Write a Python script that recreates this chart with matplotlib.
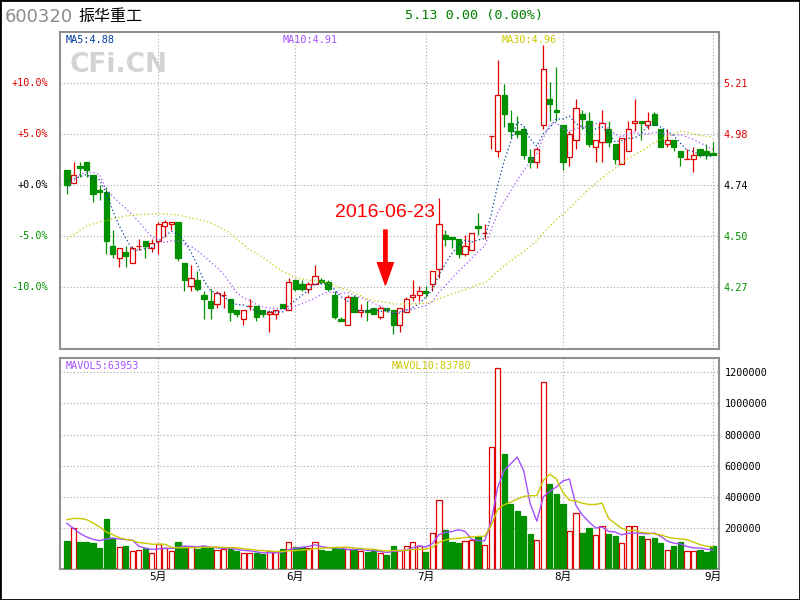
import numpy as np
import pandas as pd
import matplotlib
matplotlib.use('Agg')
import matplotlib.pyplot as plt
from matplotlib import transforms
from matplotlib.patches import Rectangle

plt.rcParams['font.family'] = ['DejaVu Sans', 'Noto Sans CJK SC']

# daily candles 2016-04 .. 2016-09-01
opens = [4.81, 4.75, 4.83, 4.85, 4.79, 4.72, 4.71, 4.46, 4.40, 4.43,
         4.38, 4.46, 4.48, 4.45, 4.48, 4.55, 4.56, 4.57, 4.38, 4.27,
         4.30, 4.23, 4.20, 4.19, 4.23, 4.21, 4.16, 4.12, 4.18, 4.18,
         4.16, 4.14, 4.14, 4.19, 4.16, 4.30, 4.28, 4.26, 4.28, 4.30,
         4.29, 4.23, 4.12, 4.09, 4.22, 4.15, 4.16, 4.17, 4.13, 4.17,
         4.16, 4.09, 4.15, 4.22, 4.23, 4.25, 4.28, 4.35, 4.51, 4.50,
         4.49, 4.42, 4.44, 4.55, 4.52, 4.97, 4.90, 5.16, 5.03, 4.99,
         5.00, 4.87, 4.85, 5.02, 5.14, 5.09, 5.02, 4.87, 4.95, 5.07,
         5.04, 4.92, 4.94, 5.00, 4.93, 4.84, 4.90, 5.03, 5.04, 5.02,
         5.07, 5.00, 4.93, 4.95, 4.90, 4.86, 4.86, 4.91, 4.90, 4.89]
highs = [4.81, 4.85, 4.85, 4.85, 4.79, 4.74, 4.73, 4.53, 4.45, 4.46,
         4.46, 4.49, 4.48, 4.49, 4.57, 4.58, 4.57, 4.57, 4.38, 4.37,
         4.34, 4.25, 4.26, 4.25, 4.25, 4.21, 4.16, 4.16, 4.21, 4.18,
         4.16, 4.16, 4.16, 4.19, 4.31, 4.30, 4.30, 4.29, 4.37, 4.31,
         4.30, 4.25, 4.13, 4.23, 4.23, 4.19, 4.20, 4.17, 4.18, 4.17,
         4.16, 4.17, 4.22, 4.30, 4.27, 4.27, 4.34, 4.68, 4.53, 4.50,
         4.49, 4.51, 4.52, 4.61, 4.56, 4.97, 5.32, 5.21, 5.09, 5.06,
         5.01, 4.91, 4.92, 5.39, 5.22, 5.29, 5.02, 4.99, 5.14, 5.09,
         5.08, 4.95, 5.09, 5.04, 4.93, 4.96, 5.04, 5.14, 5.04, 5.08,
         5.08, 5.00, 5.00, 4.95, 4.90, 4.91, 4.92, 4.91, 4.93, 4.94]
lows = [4.70, 4.75, 4.78, 4.78, 4.66, 4.67, 4.42, 4.40, 4.36, 4.36,
        4.38, 4.44, 4.40, 4.43, 4.42, 4.50, 4.53, 4.39, 4.25, 4.25,
        4.25, 4.12, 4.12, 4.17, 4.17, 4.11, 4.13, 4.09, 4.16, 4.11,
        4.13, 4.06, 4.12, 4.17, 4.16, 4.25, 4.25, 4.24, 4.28, 4.28,
        4.25, 4.12, 4.11, 4.09, 4.15, 4.13, 4.11, 4.14, 4.12, 4.15,
        4.05, 4.06, 4.15, 4.20, 4.20, 4.22, 4.25, 4.31, 4.46, 4.45,
        4.40, 4.41, 4.44, 4.51, 4.49, 4.91, 4.87, 5.01, 4.96, 4.96,
        4.86, 4.82, 4.82, 5.00, 5.04, 5.04, 4.81, 4.83, 4.91, 5.00,
        4.92, 4.85, 4.85, 4.92, 4.84, 4.84, 4.90, 4.99, 4.95, 5.00,
        5.02, 4.92, 4.92, 4.90, 4.83, 4.86, 4.80, 4.87, 4.86, 4.88]
closes = [4.74, 4.79, 4.82, 4.81, 4.70, 4.71, 4.48, 4.42, 4.45, 4.41,
          4.45, 4.46, 4.46, 4.47, 4.56, 4.57, 4.57, 4.40, 4.30, 4.31,
          4.26, 4.21, 4.17, 4.24, 4.23, 4.15, 4.14, 4.16, 4.18, 4.13,
          4.14, 4.15, 4.16, 4.17, 4.29, 4.26, 4.26, 4.28, 4.32, 4.29,
          4.26, 4.13, 4.11, 4.22, 4.15, 4.16, 4.15, 4.14, 4.17, 4.16,
          4.09, 4.17, 4.21, 4.23, 4.25, 4.24, 4.34, 4.56, 4.49, 4.49,
          4.42, 4.46, 4.52, 4.54, 4.52, 4.97, 5.16, 5.07, 4.99, 4.98,
          4.88, 4.85, 4.91, 5.28, 5.12, 5.08, 4.85, 4.98, 5.10, 5.05,
          4.93, 4.95, 5.03, 4.94, 4.86, 4.96, 5.00, 5.04, 5.03, 5.04,
          5.02, 4.92, 4.95, 4.92, 4.87, 4.86, 4.88, 4.88, 4.88, 4.88]
volumes = [118000, 206000, 112000, 112000, 106000, 74000, 259000, 142000, 84000, 86000,
           59000, 65000, 76000, 46000, 104000, 76000, 59000, 112000, 86000, 91000,
           67000, 86000, 74000, 65000, 72000, 67000, 54000, 46000, 46000, 42000,
           35000, 54000, 48000, 67000, 116000, 84000, 84000, 76000, 116000, 61000,
           54000, 76000, 67000, 72000, 61000, 54000, 48000, 61000, 42000, 29000,
           86000, 65000, 91000, 116000, 86000, 48000, 174000, 379000, 189000, 112000,
           106000, 123000, 129000, 146000, 97000, 718000, 1223000, 675000, 355000, 310000,
           278000, 163000, 129000, 1134000, 483000, 419000, 355000, 187000, 296000, 170000,
           202000, 161000, 213000, 163000, 150000, 110000, 213000, 219000, 150000, 136000,
           138000, 106000, 65000, 86000, 112000, 59000, 59000, 61000, 48000, 86000]

# moving-average values before the window fills
ma5_head = [4.76, 4.77, 4.78, 4.79]
ma10_head = [4.72, 4.76, 4.79, 4.80, 4.80, 4.79, 4.72, 4.69, 4.66]
ma30_head = [4.49, 4.51, 4.53, 4.55, 4.56, 4.57, 4.576, 4.585, 4.59, 4.598,
             4.60, 4.603, 4.605, 4.606, 4.607, 4.607, 4.605, 4.602, 4.595, 4.588,
             4.582, 4.575, 4.565, 4.55, 4.535, 4.517, 4.49, 4.465, 4.44]
mavol5_head = [232000, 200000, 168000, 146000]
mavol10_head = [257000, 264000, 264000, 257000, 235000, 210000, 178000, 161000, 142000]

month_pos = [14, 35, 55, 76, 99]
month_labels = ['5月', '6月', '7月', '8月', '9月']
base_price = 4.74
pct_ticks = [10, 5, 0, -5, -10]
vol_ticks = [200000, 400000, 600000, 800000, 1000000, 1200000]


def moving(vals, n, head):
    m = pd.Series(vals, dtype=float).rolling(n).mean().to_numpy()
    m[:n - 1] = head
    return m


RED = '#e00000'
GREEN = '#009000'
C_MA5 = '#003f9e'
C_MA10 = '#a550ff'
C_MA30 = '#c8c800'
GRID = '#a8a8a8'
MONO = 'DejaVu Sans Mono'

o = np.array(opens); h = np.array(highs); l = np.array(lows); c = np.array(closes)
v = np.array(volumes, dtype=float)
x = np.arange(len(c))
up = c >= o
col = np.where(up, RED, GREEN)
face = np.where(up, 'white', GREEN)

fig = plt.figure(figsize=(8, 6), dpi=100)
ax = fig.add_axes([60 / 800, 1 - 349 / 600, 659 / 800, 317 / 600])
axv = fig.add_axes([60 / 800, 1 - 569 / 600, 659 / 800, 211 / 600])

for a in (ax, axv):
    a.set_xlim(-1.07, 99.92)
    for s in a.spines.values():
        s.set_color('#909090')
        s.set_linewidth(1.5)
    a.set_xticks(month_pos)
    a.tick_params(length=0)
    a.grid(True, linestyle=(0, (1, 2)), color=GRID, linewidth=0.8)
    a.set_axisbelow(True)

# price panel
ax.set_ylim(3.979, 5.4524)
ax.vlines(x, l, h, colors=col, linewidth=0.9, zorder=2)
ax.bar(x, np.abs(c - o), bottom=np.minimum(o, c), width=0.8,
       facecolor=face, edgecolor=col, linewidth=0.9, zorder=3)

dots = (0, (1, 2))
ax.plot(x, moving(c, 5, ma5_head), color=C_MA5, lw=0.9, ls=dots, zorder=4)
ax.plot(x, moving(c, 10, ma10_head), color=C_MA10, lw=0.9, ls=dots, zorder=4)
ax.plot(x, moving(c, 30, ma30_head), color=C_MA30, lw=0.9, ls=dots, zorder=4)

levels = [base_price * (1 + p / 100) for p in pct_ticks]
ax.set_yticks(levels)
ax.yaxis.tick_right()
ax.set_yticklabels([f'{lv:.2f}' for lv in levels], fontfamily=MONO, fontsize=7.3)
ax.set_xticklabels([])
tcol = [RED if p > 0 else ('black' if p == 0 else GREEN) for p in pct_ticks]
for lab, cc in zip(ax.get_yticklabels(), tcol):
    lab.set_color(cc)
ax.tick_params(axis='y', pad=3)
blend = transforms.blended_transform_factory(ax.transAxes, ax.transData)
for p, lv, cc in zip(pct_ticks, levels, tcol):
    ax.text(-0.018, lv, f'{p:+.1f}%', transform=blend, ha='right', va='center',
            color=cc, fontfamily=MONO, fontsize=7.3)

ax.text(0.008, 0.975, 'MA5:4.88', transform=ax.transAxes, color=C_MA5,
        fontfamily=MONO, fontsize=7.3, va='center')
ax.text((283 - 60) / 659, 0.975, 'MA10:4.91', transform=ax.transAxes, color=C_MA10,
        fontfamily=MONO, fontsize=7.3, va='center')
ax.text((502 - 60) / 659, 0.975, 'MA30:4.96', transform=ax.transAxes, color=C_MA30,
        fontfamily=MONO, fontsize=7.3, va='center')

ax.text(48.8, 4.614, '2016-06-23', color='#ff0000', ha='center', va='center',
        fontfamily='Liberation Sans', fontsize=14, zorder=5)
ax.annotate('', xy=(48.8, 4.277), xytext=(48.8, 4.532),
            arrowprops=dict(arrowstyle='simple,head_length=1.6,head_width=1.15,tail_width=0.24',
                            color='#ff0000', mutation_scale=10, shrinkA=0, shrinkB=0),
            zorder=5)

# volume panel
vbot = -58900
axv.set_ylim(vbot, 1289600)
axv.bar(x, v - vbot, bottom=vbot, width=0.8, facecolor=face, edgecolor=col,
        linewidth=0.9, zorder=3)
axv.plot(x, moving(v, 5, mavol5_head), color=C_MA10, lw=1.0, zorder=4)
axv.plot(x, moving(v, 10, mavol10_head), color=C_MA30, lw=1.0, zorder=4)
axv.set_yticks(vol_ticks)
axv.yaxis.tick_right()
axv.set_yticklabels([str(t) for t in vol_ticks], fontfamily=MONO, fontsize=7.3)
axv.tick_params(axis='y', pad=4)
axv.set_xticklabels(month_labels, fontfamily=[MONO, 'Noto Sans CJK SC'], fontsize=7.8)
axv.tick_params(axis='x', pad=2)

axv.text(0.008, 0.96, 'MAVOL5:63953', transform=axv.transAxes, color=C_MA10,
         fontfamily=MONO, fontsize=7.3, va='center')
axv.text((392 - 60) / 659, 0.96, 'MAVOL10:83780', transform=axv.transAxes, color=C_MA30,
         fontfamily=MONO, fontsize=7.3, va='center')

# header and watermark
fig.text(5 / 800, 1 - 17 / 600, '600320', color='#8c8c8c', fontsize=13, va='center')
fig.text(78 / 800, 1 - 16 / 600, '振华重工', color='black', fontsize=11.5,
         fontfamily='Noto Sans CJK SC', va='center')
fig.text(405 / 800, 1 - 15 / 600, '5.13 0.00 (0.00%)', color='#008000',
         fontfamily=MONO, fontsize=9.7, va='center')
fig.text(70 / 800, 1 - 65 / 600, 'CFi.CN', color='#d3d3d3', fontsize=19,
         fontweight='bold', va='center')

fig.patches.append(Rectangle((0, 0), 1, 1, transform=fig.transFigure, fill=False,
                             edgecolor='black', linewidth=2))

fig.savefig('out.png', dpi=100)
